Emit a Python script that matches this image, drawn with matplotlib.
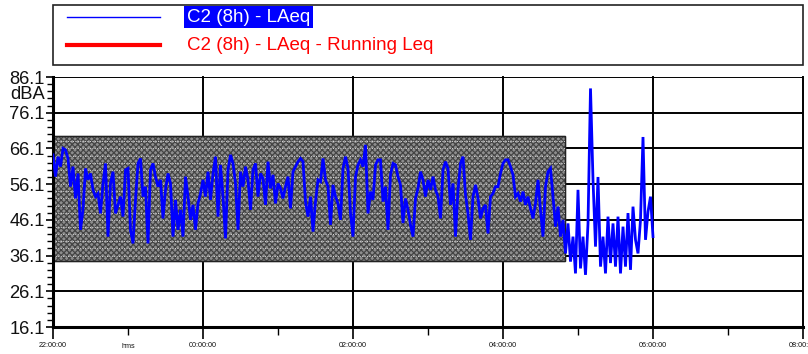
import numpy as np
import matplotlib
matplotlib.use("Agg")
import matplotlib.pyplot as plt
from matplotlib.patches import Rectangle
from matplotlib.lines import Line2D

plt.rcParams['font.family'] = ['Liberation Sans', 'DejaVu Sans']
plt.rcParams['hatch.linewidth'] = 0.9

# ---------------- data ----------------
sample_minutes = 2          # one LAeq value every 2 minutes, starting 22:00
laeq_part1 = [64.3, 58.2, 63.8, 61.0, 66.1, 65.7, 63.3, 55.4, 61.0, 52.1,
              59.1, 43.3, 48.9, 60.5, 57.3, 59.1, 54.5, 52.6, 53.5, 47.9,
              56.3, 61.9, 41.4, 56.3, 59.6, 47.9, 50.3, 52.6, 47.0, 60.1,
              60.5, 43.3, 39.5, 51.7, 61.9, 63.3, 52.6, 55.4, 39.5, 60.1]
laeq_part2 = [61.9, 58.2, 55.4, 57.3, 46.5, 54.5, 59.1, 56.3, 41.4, 51.7,
              43.3, 48.9, 41.4, 58.2, 52.6, 46.1, 50.3, 43.3, 50.7, 53.5,
              57.3, 52.6, 59.6, 51.7, 59.1, 63.8, 47.0, 61.5, 52.6, 40.9,
              60.1, 64.3, 61.9, 56.3, 43.3, 59.6, 55.4, 61.0, 57.3, 48.9]
laeq_part3 = [60.1, 61.9, 52.6, 59.1, 57.7, 50.3, 62.4, 54.9, 58.7, 50.7,
              56.3, 54.9, 52.1, 55.4, 58.2, 49.3, 59.6, 61.0, 62.4, 63.3,
              62.4, 51.2, 47.0, 52.6, 42.8, 51.2, 57.3, 56.8, 63.3, 57.3,
              55.4, 44.7, 55.9, 52.6, 50.7, 46.1, 60.5, 63.8, 60.5, 47.9]
laeq_part4 = [41.4, 58.2, 61.5, 62.9, 61.0, 67.1, 47.9, 54.0, 51.7, 61.5,
              62.9, 62.9, 51.2, 55.4, 43.3, 58.7, 61.9, 61.5, 58.2, 55.9,
              45.2, 52.1, 48.9, 44.7, 41.4, 52.1, 54.9, 59.6, 57.3, 52.6,
              57.3, 54.5, 58.2, 54.5, 52.6, 46.5, 60.1, 62.4, 60.5, 50.3]
laeq_part5 = [56.3, 41.4, 54.5, 61.9, 63.8, 53.1, 47.9, 40.5, 52.6, 55.9,
              52.1, 46.5, 49.3, 50.3, 42.3, 52.6, 53.5, 55.4, 55.4, 59.1,
              61.9, 62.9, 62.9, 61.0, 58.7, 52.6, 53.5, 51.2, 54.0, 50.3,
              52.6, 49.3, 46.5, 50.7, 57.3, 48.9, 41.4, 55.4, 59.6, 60.5]
laeq_part6 = [52.6, 44.2, 49.8, 41.4, 46.1, 36.7, 45.1, 34.4, 41.4, 31.1,
              54.5, 32.5, 41.4, 30.7, 45.0, 82.9, 57.3, 38.6, 58.1, 33.0,
              41.4, 31.1, 47.0, 34.0, 45.1, 33.0, 47.0, 31.1, 44.2, 33.0,
              48.0, 32.1, 49.8, 40.5, 36.7, 46.1, 69.3, 40.5, 48.4, 52.6, 41.4]

x_tick_hours = [0, 2, 4, 6, 8, 10]          # hours after 22:00
x_tick_labels = ["22:00:00", "00:00:00", "02:00:00", "04:00:00", "06:00:00", "08:00:00"]
y_ticks = [16.1, 26.1, 36.1, 46.1, 56.1, 66.1, 76.1, 86.1]
y_tick_labels = ["16.1", "26.1", "36.1", "46.1", "56.1", "66.1", "76.1", "86.1"]

# shaded (highlighted) period
highlight_start_h = 0.0
highlight_end_h = 6.83
highlight_low = 34.7
highlight_high = 69.5

series_label = "C2 (8h) - LAeq"
running_label = "C2 (8h) - LAeq - Running Leq"

# ---------------- plot ----------------
laeq = np.array(laeq_part1 + laeq_part2 + laeq_part3 + laeq_part4 + laeq_part5 + laeq_part6)
hours = np.arange(len(laeq)) * sample_minutes / 60.0

W, H = 808, 354
fig = plt.figure(figsize=(W / 100, H / 100), dpi=100)
ax = fig.add_axes([53 / W, 27 / H, 750 / W, 250 / H])

ax.set_xlim(0, 10)
ax.set_ylim(16.1, 86.1)

# major grid (under the shaded box)
for yv in y_ticks:
    ax.axhline(yv, color='black', lw=1.4, zorder=0.8)
for xv in x_tick_hours:
    ax.axvline(xv, color='black', lw=1.4, zorder=0.8, clip_on=False)

# shaded checker box
rect = Rectangle((highlight_start_h, highlight_low), highlight_end_h - highlight_start_h,
                 highlight_high - highlight_low, facecolor='#8e8e8e', edgecolor='#444444',
                 hatch='xxxxxx', lw=0.9, zorder=1)
ax.add_patch(rect)
rect2 = Rectangle((highlight_start_h, highlight_low), highlight_end_h - highlight_start_h,
                  highlight_high - highlight_low, facecolor='none', edgecolor='#222222',
                  lw=1.0, zorder=1.1)
ax.add_patch(rect2)

# minor dotted lines inside the box
minor_y = np.arange(16.1, 86.2, 2.0)
inside = [m for m in minor_y if highlight_low < m < highlight_high]
ax.hlines(inside, highlight_start_h, highlight_end_h, colors='#d8d8d8',
          linestyles=(0, (1, 1.5)), lw=0.7, zorder=1.2)

# data line
ax.plot(hours, laeq, color='#0000ff', lw=2.0, zorder=3, solid_joinstyle='miter')

# axes styling
for s in ['top', 'right']:
    ax.spines[s].set_visible(False)
ax.spines['left'].set_linewidth(2.2)
ax.spines['bottom'].set_linewidth(2.2)

ax.set_yticks(y_ticks)
ax.set_yticklabels(y_tick_labels, fontsize=13.2, color='#111111')
ax.set_yticks(minor_y, minor=True)
ax.tick_params(axis='y', which='major', direction='out', length=5, width=1.2, pad=1)
ax.tick_params(axis='y', which='minor', direction='out', length=4.5, width=1.0)

ax.set_xticks(x_tick_hours)
ax.set_xticklabels(x_tick_labels, fontsize=5.2, color='#111111')
ax.set_xticks([1, 3, 5, 7, 9], minor=True)
ax.tick_params(axis='x', which='major', direction='out', length=8.5, width=1.2, pad=2.5)
ax.tick_params(axis='x', which='minor', direction='out', length=5.5, width=1.0)

ax.text(1, -0.062, "hms", transform=ax.get_xaxis_transform(), fontsize=5.2,
        ha='center', va='top', color='#111111')
ax.text(-0.0107, 81.1, "dBA", transform=ax.get_yaxis_transform(), fontsize=13.2,
        ha='right', va='center', color='#111111')

# legend box (figure coords in pixels)
def fx(px):
    return px / W

def fy(py):
    return 1 - py / H

fig.patches.append(Rectangle((fx(53), fy(65)), fx(750), 60 / H, transform=fig.transFigure,
                             fill=False, edgecolor='#222222', lw=1.2))
fig.lines.append(Line2D([fx(67), fx(160)], [fy(17), fy(17)], transform=fig.transFigure,
                        color='#0000ff', lw=1.0))
fig.lines.append(Line2D([fx(67), fx(160)], [fy(45), fy(45)], transform=fig.transFigure,
                        color='#ff0000', lw=3.0))
fig.text(fx(187), fy(17), series_label, fontsize=13.5, color='white', ha='left', va='center',
         bbox=dict(boxstyle='square,pad=0.15', facecolor='#0000ff', edgecolor='none'))
fig.text(fx(187), fy(45), running_label, fontsize=13.5, color='#ff0000', ha='left', va='center')

fig.savefig("out.png", dpi=100)
